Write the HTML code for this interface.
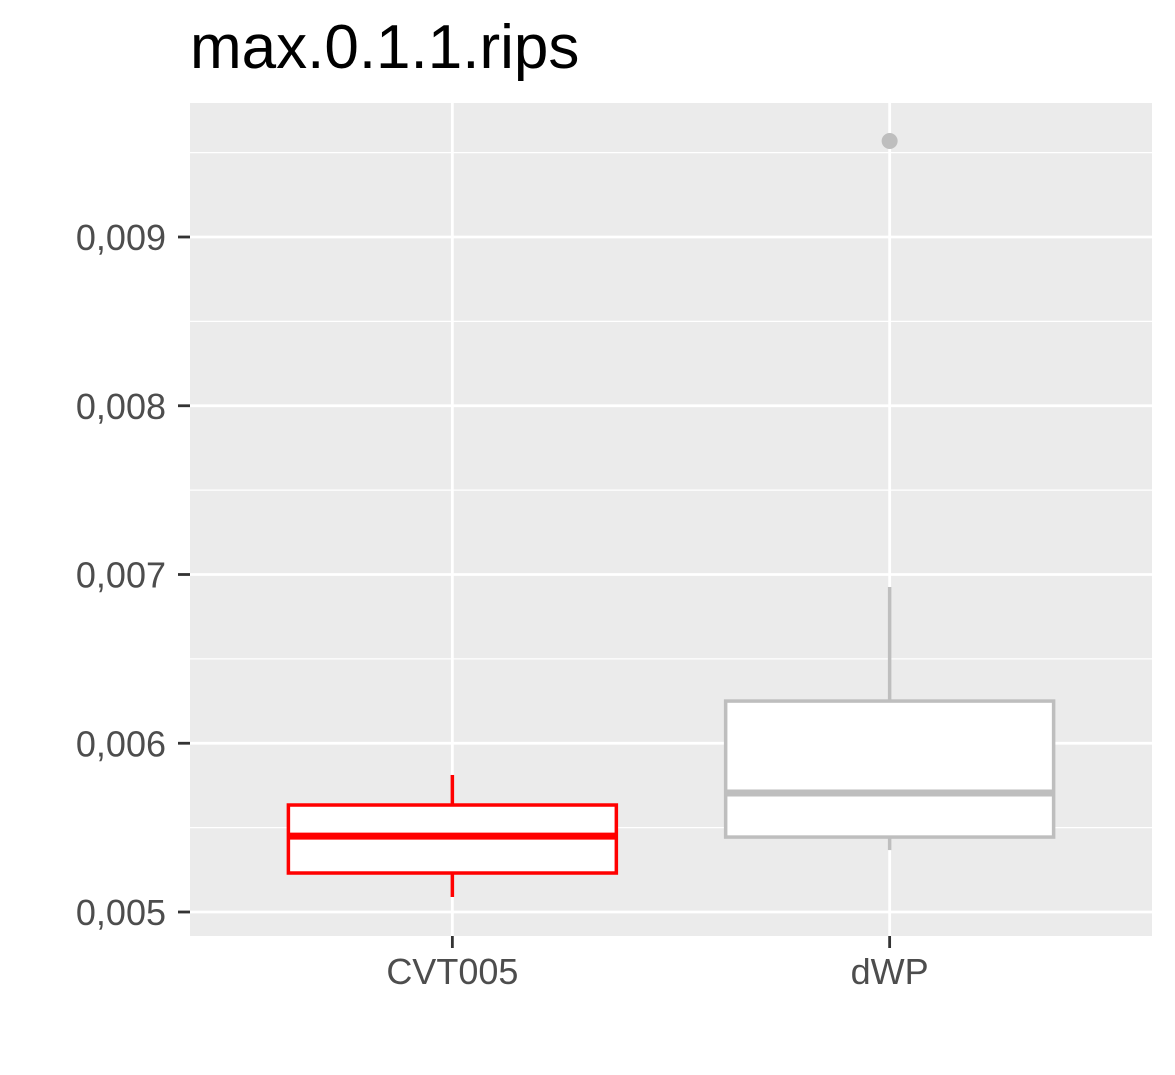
<!DOCTYPE html>
<html><head><meta charset="utf-8"><style>
html,body{margin:0;padding:0;background:#fff;}
svg{display:block;font-family:"Liberation Sans",Arial,sans-serif;}
</style></head><body>
<svg id="chart" width="1175" height="1075" viewBox="0 0 1175 1075">
<text x="190" y="68" font-size="62" fill="#000">max.0.1.1.rips</text>
<rect x="190" y="103" width="962" height="833" fill="#ebebeb"/>
<g id="grid"></g>
<g id="marks"></g>
<g id="axes"></g>
</svg>
<script>
const categories = ["CVT005", "dWP"];
const whiskerLow = [0.005089, 0.005367];
const q1 = [0.005231, 0.005444];
const median = [0.00545, 0.005705];
const q3 = [0.005634, 0.00625];
const whiskerHigh = [0.005812, 0.006926];
const outliers = [[], [0.009569]];
const colors = ["#ff0000", "#bebebe"];
const yTicks = [0.005, 0.006, 0.007, 0.008, 0.009];
const yTickLabels = ["0,005", "0,006", "0,007", "0,008", "0,009"];

const NS = "http://www.w3.org/2000/svg";
const panelL = 190, panelR = 1152, panelT = 103, panelB = 936;
function y(v){ return 912 - (v - 0.005) * 168750; }
const step = (panelR - panelL) / (categories.length + 0.2);
function x(i){ return panelL + step * (i + 0.6); }
function el(tag, attrs, parent){ const e = document.createElementNS(NS, tag); for (const k in attrs) e.setAttribute(k, attrs[k]); parent.appendChild(e); return e; }
const grid = document.getElementById("grid"), marks = document.getElementById("marks"), axes = document.getElementById("axes");

const minorVals = [];
for (let i = 0; i < yTicks.length - 1; i++) minorVals.push((yTicks[i] + yTicks[i+1]) / 2);
minorVals.push(yTicks[yTicks.length-1] + 0.0005);
minorVals.forEach(v => {
  const l = el("line", {x1: panelL, x2: panelR, y1: y(v), y2: y(v), stroke: "#fff", "stroke-width": 1.3}, grid);
  
  
});
yTicks.forEach((v, i) => {
  const l = el("line", {x1: panelL, x2: panelR, y1: y(v), y2: y(v), stroke: "#fff", "stroke-width": 2.8}, grid);
  
  
  const t = el("line", {x1: 178, x2: 190, y1: y(v), y2: y(v), stroke: "#333", "stroke-width": 2.8}, axes);
  
  
  const tx = el("text", {x: 166, y: y(v) + 13, "font-size": 36, fill: "#4d4d4d", "text-anchor": "end"}, axes);
  tx.textContent = yTickLabels[i];
  
  
});
categories.forEach((c, i) => {
  const cx = x(i);
  const g = el("line", {x1: cx, x2: cx, y1: panelT, y2: panelB, stroke: "#fff", "stroke-width": 2.8}, grid);
  
  
  const t = el("line", {x1: cx, x2: cx, y1: panelB, y2: panelB + 12, stroke: "#333", "stroke-width": 2.8}, axes);
  
  
  const tx = el("text", {x: cx, y: 984, "font-size": 36, fill: "#4d4d4d", "text-anchor": "middle"}, axes);
  tx.textContent = c;
  
  

  const half = step * 0.75 / 2, col = colors[i];
  const g2 = el("g", {}, marks);
  
  
  el("line", {x1: cx, x2: cx, y1: y(q3[i]), y2: y(whiskerHigh[i]), stroke: col, "stroke-width": 3.5}, g2);
  el("line", {x1: cx, x2: cx, y1: y(q1[i]), y2: y(whiskerLow[i]), stroke: col, "stroke-width": 3.5}, g2);
  el("rect", {x: cx - half, y: y(q3[i]), width: half * 2, height: y(q1[i]) - y(q3[i]), fill: "#fff", stroke: col, "stroke-width": 3.5}, g2);
  el("line", {x1: cx - half, x2: cx + half, y1: y(median[i]), y2: y(median[i]), stroke: col, "stroke-width": 7}, g2);
  outliers[i].forEach(o => {
    const p = el("circle", {cx: cx, cy: y(o), r: 8, fill: col}, marks);
    
    
  });
});
</script>
</body></html>
